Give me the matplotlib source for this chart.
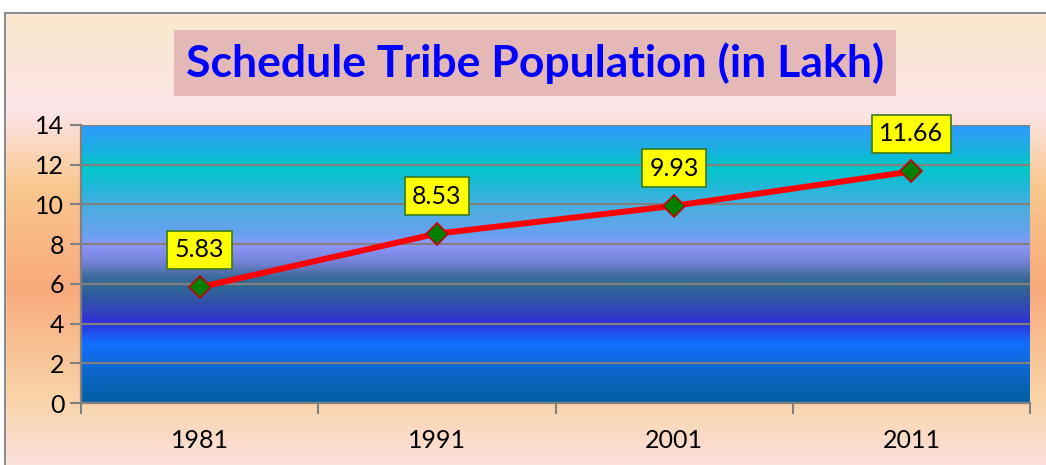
import matplotlib
matplotlib.use("Agg")
import matplotlib.pyplot as plt
import numpy as np
from matplotlib.colors import LinearSegmentedColormap
from matplotlib.patches import Rectangle

years = ["1981", "1991", "2001", "2011"]
population = [5.83, 8.53, 9.93, 11.66]
title = "Schedule Tribe Population (in Lakh)"

plt.rcParams['font.family'] = ['Lato', 'DejaVu Sans']

fig = plt.figure(figsize=(10.46, 4.65), dpi=100)

# figure background gradient (top -> bottom)
bg = fig.add_axes([0, 0, 1, 1], zorder=-10)
bg_cmap = LinearSegmentedColormap.from_list("bg", [
    (0.00, "#ffffff"), (0.027, "#ffffff"), (0.03, "#fae8cc"),
    (0.24, "#fce4e8"), (0.40, "#f9c890"), (0.62, "#f8aa7c"),
    (0.86, "#f9d4a8"), (1.00, "#fce0dc")])
bg.imshow(np.linspace(0, 1, 300).reshape(-1, 1), aspect="auto", cmap=bg_cmap,
          extent=[0, 1, 0, 1], origin="upper")
bg.add_patch(Rectangle((0, 0), 5/1046, 1, color="white", transform=bg.transAxes))
bg.plot([5/1046, 5/1046], [0, 1 - 13/465], color="#8c8c8c", lw=1.5)
bg.plot([5/1046, 1], [1 - 13/465, 1 - 13/465], color="#8c8c8c", lw=1.5)
bg.set_xlim(0, 1)
bg.set_ylim(0, 1)
bg.axis('off')

ax = fig.add_axes([81/1046, 1 - 403/465, 949/1046, 278/465])
x = np.arange(len(years))

# plot area gradient
pa_cmap = LinearSegmentedColormap.from_list("pa", [
    (0.00, "#3399ff"), (0.09, "#1ab0e0"), (0.15, "#00c8c8"),
    (0.22, "#20b8d8"), (0.29, "#48b0e0"), (0.40, "#6aa0f0"),
    (0.43, "#9098ff"), (0.50, "#7080d0"), (0.55, "#3a6a9a"),
    (0.58, "#306890"), (0.68, "#3040c0"), (0.71, "#3030d8"),
    (0.79, "#1070ff"), (0.86, "#1068d8"), (1.00, "#0060a0")])
ax.imshow(np.linspace(0, 1, 400).reshape(-1, 1), aspect="auto", cmap=pa_cmap,
          extent=[-0.5, 3.5, 0, 14], origin="upper", zorder=0)

ax.set_xlim(-0.5, 3.5)
ax.set_ylim(0, 14)
ax.set_yticks(range(0, 15, 2))
ax.grid(axis='y', color="#808080", lw=1.6, zorder=1)
ax.set_axisbelow(False)

ax.plot(x, population, color="#ff0000", lw=4.3, zorder=3,
        marker="D", markersize=11, markerfacecolor="#008000",
        markeredgecolor="#cc0000", markeredgewidth=1.2)

for xi, v in zip(x, population):
    ax.annotate(f"{v:.2f}", (xi, v), xytext=(0, 27), textcoords="offset points",
                ha="center", va="center", fontsize=18, color="black", zorder=5,
                bbox=dict(boxstyle="square,pad=0.3", facecolor="#ffff00",
                          edgecolor="#3a7a20", lw=1.2))

ax.set_xticks(x)
ax.set_xticklabels(years)
ax.set_xticks(np.arange(-0.5, 4, 1), minor=True)
ax.tick_params(axis='x', which='major', length=0, pad=19, labelsize=18)
ax.tick_params(axis='x', which='minor', length=8, width=1.5, color="#808080")
ax.tick_params(axis='y', length=8, width=1.5, color="#808080", labelsize=18, pad=4)

for s in ["top", "right"]:
    ax.spines[s].set_visible(False)
for s in ["left", "bottom"]:
    ax.spines[s].set_color("#808080")
    ax.spines[s].set_linewidth(1.6)

fig.text(535/1046, 1 - 63/465, title, ha="center", va="center",
         fontsize=32, fontweight="bold", color="#0000ff",
         bbox=dict(boxstyle="square,pad=0.27", facecolor="#e5b8b8", edgecolor="none"))

fig.savefig("out.png", dpi=100)
